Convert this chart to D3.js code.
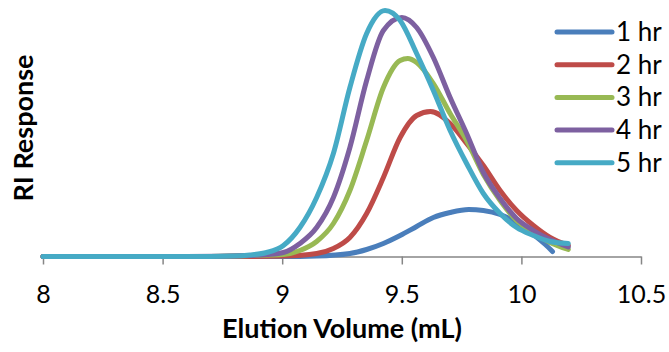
<!DOCTYPE html>
<html>
<head>
<meta charset="utf-8">
<script src="https://cdn.jsdelivr.net/npm/d3@7"></script>
<style>
  body { margin: 0; background: #fff; }
  text { font-family: Lato, "Open Sans", sans-serif; fill: #000; }
</style>
</head>
<body>
<div id="chart"></div>
<script>
// series labels + colours
const labels = ['1 hr', '2 hr', '3 hr', '4 hr', '5 hr'];
const colors = ['#4a7ebb', '#be4b48', '#98b954', '#7d60a0', '#46aac5'];

const xTicks = [8, 8.5, 9, 9.5, 10, 10.5];

// elution volume (mL) / RI response (arbitrary units)
const vol1 = [8, 9.0, 9.144, 9.283, 9.353, 9.423, 9.493, 9.562, 9.632, 9.702, 9.78, 9.841, 9.911, 9.98, 10.05, 10.1, 10.13];
const ri1  = [0, 0, 0.5, 3, 7, 13, 21, 30, 39, 44, 47, 46, 42, 34, 22, 12, 5];

const vol2 = [8, 8.8, 9.005, 9.144, 9.214, 9.283, 9.353, 9.423, 9.493, 9.562, 9.62, 9.702, 9.771, 9.841, 9.911, 9.98, 10.05, 10.12, 10.196];
const ri2  = [0, 0, 0.5, 3, 8, 19, 43, 79, 119, 141, 145, 133, 113, 91, 66, 46, 31, 19, 11];

const vol3 = [8, 8.7, 8.865, 9.005, 9.074, 9.144, 9.214, 9.283, 9.353, 9.423, 9.493, 9.525, 9.562, 9.632, 9.702, 9.771, 9.841, 9.911, 9.98, 10.05, 10.12, 10.196];
const ri3  = [0, 0, 1, 2, 6, 15, 33, 66, 116, 169, 196, 198, 194, 173, 143, 116, 82, 56, 36, 24, 14, 7];

const vol4 = [8, 8.6, 8.865, 8.935, 9.005, 9.074, 9.144, 9.214, 9.283, 9.353, 9.423, 9.5, 9.562, 9.632, 9.702, 9.771, 9.841, 9.911, 9.98, 10.05, 10.12, 10.196];
const ri4  = [0, 0, 1, 2, 4, 13, 29, 59, 109, 176, 226, 239, 229, 199, 159, 123, 84, 58, 38, 26, 17, 9.5];

const vol5 = [8, 8.6, 8.8, 8.865, 8.935, 9.005, 9.074, 9.144, 9.214, 9.283, 9.353, 9.43, 9.493, 9.562, 9.632, 9.702, 9.771, 9.841, 9.911, 9.98, 10.05, 10.12, 10.196];
const ri5  = [0, 0, 0.5, 1.5, 4, 11, 29, 59, 103, 169, 223, 246, 236, 203, 166, 126, 93, 63, 43, 29, 21, 15, 13];

const series = [[vol1, ri1], [vol2, ri2], [vol3, ri3], [vol4, ri4], [vol5, ri5]]
  .map(([v, r], i) => ({ name: labels[i], color: colors[i], points: v.map((d, j) => [d, r[j]]) }));

const width = 669, height = 352;

const svg = d3.select('#chart')
  .append('svg')
  .attr('width', width)
  .attr('height', height);

const x = d3.scaleLinear().domain([8, 10.5]).range([43, 641]);
const y = d3.scaleLinear().domain([0, 250]).range([256.5, 6.5]);

// x axis
const xAxis = svg.append('g')
  .attr('transform', `translate(0, ${y(0)})`)
  .call(d3.axisBottom(x).tickValues(xTicks).tickSize(8).tickSizeOuter(0).tickFormat(d => String(d)));
xAxis.select('.domain').attr('stroke', '#868686').attr('stroke-width', 1.5);
xAxis.selectAll('.tick line').attr('stroke', '#868686').attr('stroke-width', 1.5);
xAxis.selectAll('.tick text')
  .attr('y', 29)
  .attr('dy', '0.71em')
  .style('font-size', '25px')
  .style('font-family', 'Lato, sans-serif')
  .attr('fill', '#000');

// lines
const line = d3.line()
  .x(d => x(d[0]))
  .y(d => y(d[1]))
  .curve(d3.curveMonotoneX);

svg.selectAll('path.series')
  .data(series)
  .enter()
  .append('path')
  .attr('class', 'series')
  .attr('d', d => line(d.points))
  .attr('fill', 'none')
  .attr('stroke', d => d.color)
  .attr('stroke-width', 5)
  .attr('stroke-linecap', 'round')
  .attr('stroke-linejoin', 'round');

// legend
const legend = svg.append('g').attr('transform', 'translate(557, 32)');
const item = legend.selectAll('g')
  .data(series)
  .enter()
  .append('g')
  .attr('transform', (d, i) => `translate(0, ${i * 32.7})`);
item.append('line')
  .attr('x1', 0).attr('x2', 55)
  .attr('stroke', d => d.color)
  .attr('stroke-width', 5)
  .attr('stroke-linecap', 'round');
item.append('text')
  .attr('x', 59)
  .attr('y', 9)
  .style('font-size', '26px')
  .text(d => d.name);

// axis titles
svg.append('text')
  .attr('x', 342)
  .attr('y', 338)
  .attr('text-anchor', 'middle')
  .style('font-size', '27px')
  .style('font-weight', 'bold')
  .text('Elution Volume (mL)');

svg.append('text')
  .attr('transform', 'rotate(-90)')
  .attr('x', -128)
  .attr('y', 33)
  .attr('text-anchor', 'middle')
  .style('font-size', '27px')
  .style('font-weight', 'bold')
  .text('RI Response');
</script>
</body>
</html>
